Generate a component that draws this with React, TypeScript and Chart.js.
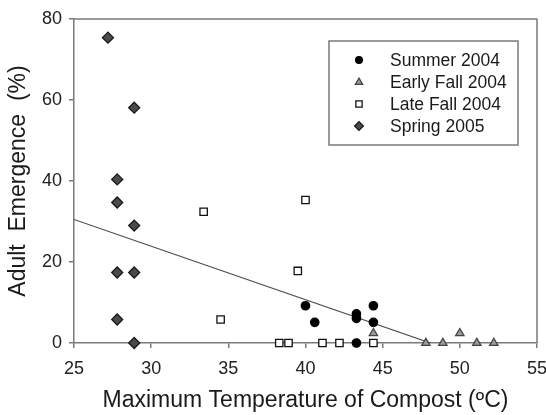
import React, { useEffect, useRef } from 'react';
import { Chart, registerables } from 'chart.js';

Chart.register(...registerables);

const seriesLabels = ['Summer 2004', 'Early Fall 2004', 'Late Fall 2004', 'Spring 2005'];

const summerX = [40.0, 40.6, 43.3, 43.3, 44.4, 44.4, 43.3];
const summerY = [9.2, 5.1, 7.2, 6.1, 9.2, 5.1, 0];

const earlyFallX = [44.4, 47.8, 48.9, 50.0, 51.1, 52.2];
const earlyFallY = [2.4, 0, 0, 2.4, 0, 0];

const lateFallX = [33.4, 34.5, 40.0, 39.5, 38.3, 38.9, 41.1, 42.2, 44.4];
const lateFallY = [32.4, 5.8, 35.3, 17.8, 0, 0, 0, 0, 0];

const springX = [27.2, 28.9, 27.8, 27.8, 28.9, 27.8, 28.9, 27.8, 28.9];
const springY = [75.4, 58.1, 40.4, 34.7, 29.0, 17.4, 17.4, 5.8, 0];

const trendX = [25, 48.1];
const trendY = [30.5, 0];

const xTicks = [25, 30, 35, 40, 45, 50, 55];
const yTicks = [0, 20, 40, 60, 80];

const xTitle = 'Maximum Temperature of Compost (ºC)';
const yTitle = 'Adult  Emergence  (%)';

const FONT = '"Liberation Sans", Arial, sans-serif';

function pts(xs: number[], ys: number[]) {
  return xs.map((x, i) => ({ x, y: ys[i] }));
}

function drawMarker(ctx: CanvasRenderingContext2D, style: string, x: number, y: number, r: number, fill: string, stroke: string) {
  ctx.beginPath();
  if (style === 'circle') {
    ctx.arc(x, y, r, 0, Math.PI * 2);
  } else if (style === 'triangle') {
    ctx.moveTo(x, y - r);
    ctx.lineTo(x + r * 0.95, y + r * 0.6);
    ctx.lineTo(x - r * 0.95, y + r * 0.6);
    ctx.closePath();
  } else if (style === 'rect') {
    ctx.rect(x - r * 0.75, y - r * 0.75, r * 1.5, r * 1.5);
  } else {
    ctx.moveTo(x - r, y);
    ctx.lineTo(x, y - r);
    ctx.lineTo(x + r, y);
    ctx.lineTo(x, y + r);
    ctx.closePath();
  }
  ctx.fillStyle = fill;
  ctx.fill();
  ctx.strokeStyle = stroke;
  ctx.lineWidth = 1.3;
  ctx.stroke();
}

export default function App() {
  const ref = useRef<HTMLCanvasElement>(null);

  useEffect(() => {
    if (!ref.current) return;
    document.body.style.margin = '0';

    const markerDefs = [
      { style: 'circle', fill: '#000000', stroke: '#000000', r: 4.2 },
      { style: 'triangle', fill: '#9a9a9a', stroke: '#444444', r: 4.8 },
      { style: 'rect', fill: '#ffffff', stroke: '#111111', r: 5.2 },
      { style: 'rectRot', fill: '#4a4a4a', stroke: '#1a1a1a', r: 5.5 },
    ];

    const framePlugin = {
      id: 'frameAndLegend',
      afterDatasetsDraw(chart: any) {
        const ctx = chart.ctx as CanvasRenderingContext2D;
        const { left, right, top, bottom } = chart.chartArea;
        ctx.save();
        ctx.strokeStyle = '#7a7a7a';
        ctx.lineWidth = 1.5;
        ctx.beginPath();
        ctx.moveTo(left, top);
        ctx.lineTo(right, top);
        ctx.lineTo(right, bottom);
        ctx.stroke();

        // legend box
        const bx = 329, by = 41, bw = 189, bh = 104;
        ctx.fillStyle = '#ffffff';
        ctx.fillRect(bx, by, bw, bh);
        ctx.strokeStyle = '#7a7a7a';
        ctx.lineWidth = 1.5;
        ctx.strokeRect(bx, by, bw, bh);
        ctx.font = `17.5px ${FONT}`;
        ctx.textBaseline = 'middle';
        ctx.textAlign = 'left';
        seriesLabels.forEach((lab, i) => {
          const yy = 60 + i * 22;
          const m = markerDefs[i];
          drawMarker(ctx, m.style, 359, yy, m.r * 0.8, m.fill, m.stroke);
          ctx.fillStyle = '#1a1a1a';
          ctx.fillText(lab, 390, yy + 1);
        });
        ctx.restore();
      },
    };

    const mk = (i: number, xs: number[], ys: number[]) => ({
      type: 'scatter' as const,
      label: seriesLabels[i],
      data: pts(xs, ys),
      pointStyle: markerDefs[i].style,
      pointRadius: markerDefs[i].r,
      pointBackgroundColor: markerDefs[i].fill,
      pointBorderColor: markerDefs[i].stroke,
      pointBorderWidth: 1.3,
      showLine: false,
      clip: false as any,
    });

    const chart = new Chart(ref.current, {
      type: 'scatter',
      data: {
        datasets: [
          {
            type: 'line' as const,
            label: 'trend',
            data: pts(trendX, trendY),
            borderColor: '#4a4a4a',
            borderWidth: 1.2,
            pointRadius: 0,
            fill: false,
            order: 10,
          } as any,
          mk(0, summerX, summerY),
          mk(1, earlyFallX, earlyFallY),
          mk(2, lateFallX, lateFallY),
          mk(3, springX, springY),
        ],
      },
      options: {
        animation: false,
        responsive: false,
        maintainAspectRatio: false,
        layout: { padding: { top: 19, right: 9, left: 0, bottom: 0 } },
        plugins: {
          legend: { display: false },
          tooltip: { enabled: false },
        },
        scales: {
          x: {
            type: 'linear',
            min: 25,
            max: 55,
            afterBuildTicks: (s: any) => {
              s.ticks = xTicks.map((v) => ({ value: v }));
            },
            afterFit: (s: any) => {
              s.height = 72;
              s.paddingLeft = 0;
              s.paddingRight = 0;
            },
            ticks: {
              font: { family: FONT, size: 18 },
              color: '#222222',
              padding: 10,
              maxRotation: 0,
            },
            grid: { drawOnChartArea: false, tickLength: 5, color: '#7a7a7a', lineWidth: 1.5 },
            border: { color: '#7a7a7a', width: 1.5 },
            title: {
              display: true,
              text: xTitle,
              font: { family: FONT, size: 23 },
              color: '#1a1a1a',
              padding: { top: 0, bottom: 1 },
            },
          },
          y: {
            type: 'linear',
            min: 0,
            max: 80,
            afterBuildTicks: (s: any) => {
              s.ticks = yTicks.map((v) => ({ value: v }));
            },
            afterFit: (s: any) => {
              s.width = 74;
              s.paddingTop = 0;
              s.paddingBottom = 0;
            },
            ticks: {
              font: { family: FONT, size: 18 },
              color: '#222222',
              padding: 7,
            },
            grid: { drawOnChartArea: false, tickLength: 5, color: '#7a7a7a', lineWidth: 1.5 },
            border: { color: '#7a7a7a', width: 1.5 },
            title: {
              display: true,
              text: yTitle,
              font: { family: FONT, size: 23 },
              color: '#1a1a1a',
              padding: { top: 5, bottom: 0 },
            },
          },
        },
      } as any,
      plugins: [framePlugin],
    });

    return () => chart.destroy();
  }, []);

  return (
    <div style={{ position: 'absolute', left: 0, top: 0, width: 546, height: 415, background: '#fff' }}>
      <canvas ref={ref} width={546} height={415} style={{ width: 546, height: 415 }} />
    </div>
  );
}
